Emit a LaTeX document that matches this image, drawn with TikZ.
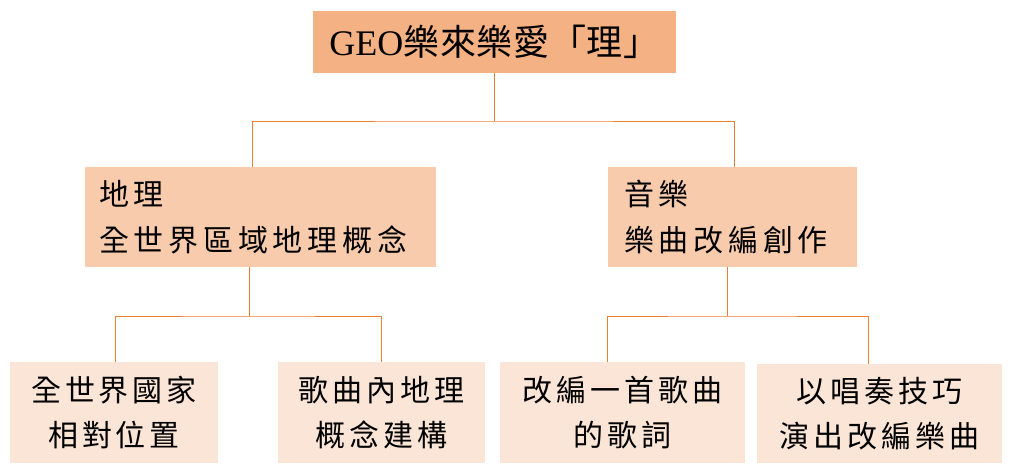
\documentclass[tikz,border=0pt]{standalone}
\usepackage{fontspec}
\setmainfont{Liberation Serif}
\newfontfamily\cjkmid[LetterSpace=16]{Noto Sans CJK TC}
\newfontfamily\cjklow[LetterSpace=13]{Noto Sans CJK TC}
\newfontfamily\cjktop[LetterSpace=2]{Noto Sans CJK TC}
\definecolor{topfill}{HTML}{F4B183}
\definecolor{midfill}{HTML}{F8CBAD}
\definecolor{lowfill}{HTML}{FBE5D6}
\definecolor{linecol}{HTML}{ED7D31}
\begin{document}
\begin{tikzpicture}[x=1pt,y=-1pt,
  box/.style={inner sep=0pt, outer sep=0pt, text=black},
  topbox/.style={box, fill=topfill, minimum width=363pt, minimum height=62pt, font=\fontsize{36}{40}\selectfont},
  midbox/.style={box, fill=midfill, minimum height=100pt, align=left, font=\cjkmid\fontsize{30}{46}\selectfont},
  lowbox/.style={box, fill=lowfill, minimum height=101pt, align=center, font=\cjklow\fontsize{30}{45}\selectfont},
  conn/.style={draw=linecol, line width=1pt}]
\useasboundingbox (0,0) rectangle (1022,466);
\fill[white] (0,0) rectangle (1022,466);
% nodes
\node[topbox] (top) at (494.5,42) {GEO{\cjktop 樂來樂愛「理」}};
\node[midbox, minimum width=351pt, text width=323pt] (L) at (260.5,217) {地理\\全世界區域地理概念};
\node[midbox, minimum width=249pt, text width=217pt] (R) at (732.5,217) {音樂\\樂曲改編創作};
\node[lowbox, minimum width=208pt] (B1) at (114,412.5) {全世界國家\\相對位置};
\node[lowbox, minimum width=207pt] (B2) at (381.5,412.5) {歌曲內地理\\概念建構};
\node[lowbox, minimum width=245pt] (B3) at (622.5,412.5) {改編一首歌曲\\的歌詞};
\node[lowbox, minimum width=245pt, minimum height=99pt] (B4) at (879.5,413.5) {以唱奏技巧\\演出改編樂曲};
% connectors
\draw[conn] (top.south) -- ++(0,48) coordinate (j1);
\draw[conn] ([xshift=-8.5pt]L.north) |- (j1) -| ([xshift=1.5pt]R.north);
\draw[conn] ([xshift=-11.5pt]L.south) -- ++(0,49) coordinate (j2);
\draw[conn] ([xshift=1pt]B1.north) |- (j2) -| (B2.north);
\draw[conn] ([xshift=-5.5pt]R.south) -- ++(0,49) coordinate (j3);
\draw[conn] ([xshift=-15.5pt]B3.north) |- (j3) -| ([xshift=-11.5pt]B4.north);
\end{tikzpicture}
\end{document}
